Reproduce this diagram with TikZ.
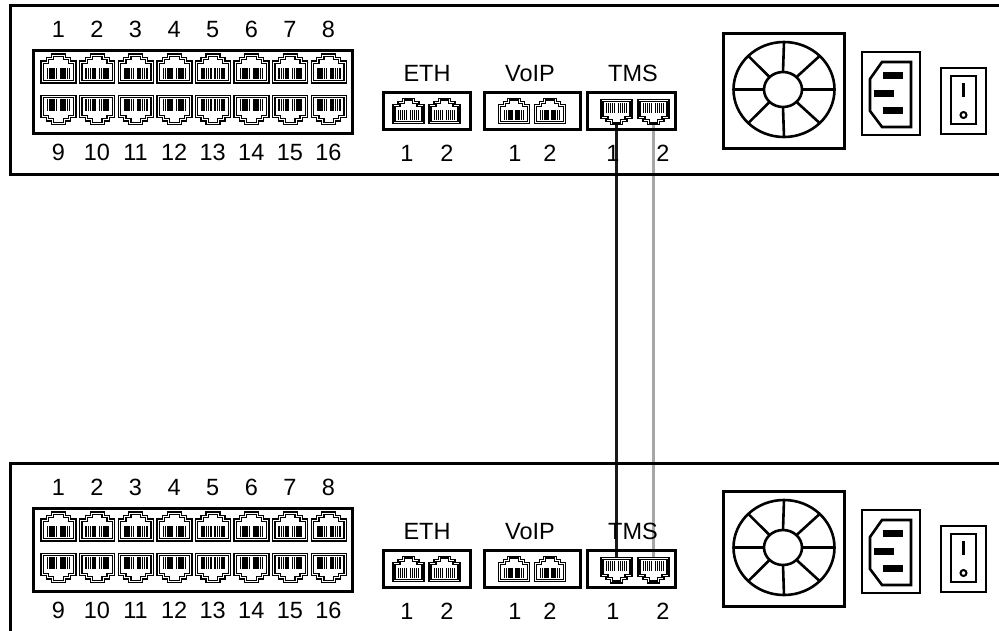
\documentclass[tikz,border=0pt]{standalone}
\usepackage{fontspec}
\setmainfont{Liberation Sans}
\usetikzlibrary{positioning, calc}

\begin{document}
\begin{tikzpicture}[
    x = 1pt, y = -1pt,
    every node/.style = {font=\fontsize{23.5}{27}\selectfont, inner sep=0pt},
    lbl/.style = {anchor=base},
    panel/.style = {line width=3pt},
    grp/.style = {draw, rectangle, line width=3pt},
    thinline/.style = {line width=1.3pt},
    icon/.style = {line width=3pt},
    cable/.style = {line width=3pt},
    jack/.pic = {
        \draw [thinline, fill=white] (-17.5,11) -- (-17.5,-11) -- (-12,-11) -- (-12,-14.5) -- (-7,-14.5) -- (-7,-18)
            -- (7,-18) -- (7,-14.5) -- (12,-14.5) -- (12,-11) -- (17.5,-11) -- (17.5,11) -- cycle;
        \draw [thinline] (-15.2,8.8) -- (-15.2,-8.8) -- (-9.8,-8.8) -- (-9.8,-12.3) -- (-4.8,-12.3) -- (-4.8,-15.8)
            -- (4.8,-15.8) -- (4.8,-12.3) -- (9.8,-12.3) -- (9.8,-8.8) -- (15.2,-8.8) -- (15.2,8.8) -- cycle;
        \foreach \k in {-11,-8.8,-6.6,-4.4,-2.2,2.2,4.4,6.6,8.8,11}
            \fill (\k-0.75,-4.3) rectangle (\k+0.75,7.3);
    }
]

    \useasboundingbox (0,0) rectangle (999,630);

    % Cables
    \coordinate (c1a) at (616.5,125);
    \coordinate (c2a) at (653.5,125);
    \coordinate (c1b) at (616.5,557);
    \coordinate (c2b) at (653.5,557);
    \draw [cable, black!90] (c1a) -- (c1b);
    \draw [cable, black!35] (c2a) -- (c2b);

    \foreach \p/\dy in {top/0, bot/458} {
    \begin{scope}[shift={(0,\dy)}]
        % Housing
        \draw [panel] (1010,5) -- (10,5) -- (10,174) -- (1010,174);

        % Switch ports
        \draw [grp] (33,50) rectangle (352,133);
        \foreach \i in {1,...,8} {
            \pgfmathtruncatemacro\j{\i+8}
            \pic at ({58.6+38.6*(\i-1)},72) {jack};
            \pic [yscale=-1] at ({58.6+38.6*(\i-1)},106.5) {jack};
            \node [lbl] (\p-up\i) at ({58.3+38.6*(\i-1)},37.5) {\i};
            \node [lbl] (\p-lo\i) at ({58.3+38.6*(\i-1)},160.5) {\j};
        }

        % Port groups
        \node [grp, minimum width=87pt, minimum height=37pt] (\p-eth) at (426.5,110.5) {};
        \node [grp, minimum width=96pt, minimum height=37pt] (\p-voip) at (532,110.5) {};
        \node [grp, minimum width=88pt, minimum height=37pt] (\p-tms) at (631,110.5) {};
        \pic [scale=0.88] at (408.5,114) {jack};
        \pic [scale=0.88] at (444.5,114) {jack};
        \pic [scale=0.88] at (514,114) {jack};
        \pic [scale=0.88] at (550,114) {jack};
        \pic [scale=0.88, yscale=-1] at (616.5,109) {jack};
        \pic [scale=0.88, yscale=-1] at (653.5,109) {jack};
        \node [lbl] (\p-ethlab) at (427,81.5) {ETH};
        \node [lbl] (\p-voiplab) at (530,81.5) {VoIP};
        \node [lbl] (\p-tmslab) at (633,81.5) {TMS};
        \foreach \nm/\xa/\xb in {eth/407/447, voip/515/550, tms/613/663} {
            \node [lbl] (\p-\nm-1) at (\xa,161) {1};
            \node [lbl] (\p-\nm-2) at (\xb,161) {2};
        }

        % Fan
        \draw [icon] (723,33) rectangle (844,148);
        \draw [icon, line width=2.6pt] (784,89.5) ellipse [x radius=50.5, y radius=47.5];
        \draw [icon, line width=2.6pt] (783,89.5) ellipse [x radius=19, y radius=17.5];
        \foreach \a in {0,45,...,315}
            \draw [icon, line width=2.6pt] ($(783,89.5)+(\a:19 and 17.5)$) -- ($(784,89.5)+(\a:50.5 and 47.5)$);

        % Power inlet
        \draw [icon, line width=2.6pt] (862,52) rectangle (920,135);
        \draw [icon, line width=2.6pt] (911,62) -- (882,62) -- (870,79) -- (870,111) -- (882,127) -- (911,127) -- cycle;
        \fill (883,72) rectangle (903,79);
        \fill (874,90) rectangle (894,97);
        \fill (883,107) rectangle (903,114);

        % Power switch
        \draw [icon, line width=2.6pt] (941,68) rectangle (986,134);
        \draw [icon, line width=2.6pt] (951,76) rectangle (976,124);
        \draw [icon] (963.5,83) -- (963.5,97);
        \draw [line width=2pt] (963.5,115) circle [radius=3];
    \end{scope}
    }

\end{tikzpicture}
\end{document}
